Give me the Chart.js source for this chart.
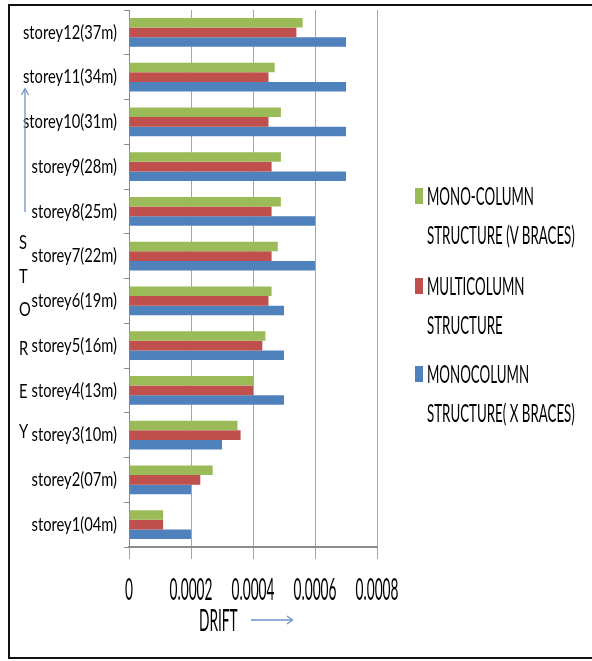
<!DOCTYPE html>
<html>
<head>
<meta charset="utf-8">
<script src="https://cdn.jsdelivr.net/npm/chart.js@4/dist/chart.umd.min.js"></script>
<style>
  html, body { margin: 0; padding: 0; background: #fff; }
  body { width: 592px; height: 661px; position: relative; overflow: hidden;
         font-family: Lato, 'DejaVu Sans Condensed', sans-serif; color: #000; }
  #frame { position: absolute; left: 8px; top: 4px; width: 600px; height: 651px;
           border: 2px solid #111; border-right: none; box-sizing: content-box; }
  #wrap { position: absolute; left: 0; top: 0; width: 592px; height: 661px; }
  .t { position: absolute; white-space: nowrap; line-height: 24px; height: 24px; }
  .t span { display: inline-block; transform-origin: left center; }
  .sw { position: absolute; width: 8px; height: 16px; }
  svg { position: absolute; left: 0; top: 0; }
</style>
</head>
<body>
<div id="frame"></div>
<div id="wrap"><canvas id="c" width="592" height="661"></canvas></div>
<svg width="592" height="661">
  <g stroke="#6f95c8" stroke-width="1.3" fill="none">
    <line x1="251" y1="620" x2="292" y2="620"/>
    <polyline points="287,616 292.5,620 287,624"/>
    <line x1="25" y1="212" x2="25" y2="89"/>
    <polyline points="21.5,95 25,88.5 28.5,95"/>
  </g>
</svg>
<div id="overlay"></div>
<script>
const categories = ['storey12(37m)', 'storey11(34m)', 'storey10(31m)', 'storey9(28m)', 'storey8(25m)', 'storey7(22m)',
                    'storey6(19m)', 'storey5(16m)', 'storey4(13m)', 'storey3(10m)', 'storey2(07m)', 'storey1(04m)'];
const vBraces     = [0.00056, 0.00047, 0.00049, 0.00049, 0.00049, 0.00048, 0.00046, 0.00044, 0.00040, 0.00035, 0.00027, 0.00011];
const multiColumn = [0.00054, 0.00045, 0.00045, 0.00046, 0.00046, 0.00046, 0.00045, 0.00043, 0.00040, 0.00036, 0.00023, 0.00011];
const xBraces     = [0.00070, 0.00070, 0.00070, 0.00070, 0.00060, 0.00060, 0.00050, 0.00050, 0.00050, 0.00030, 0.00020, 0.00020];
const xTicks = [0, 0.0002, 0.0004, 0.0006, 0.0008];
const seriesNames = [['MONO-COLUMN', 'STRUCTURE (V BRACES)'], ['MULTICOLUMN', 'STRUCTURE'], ['MONOCOLUMN', 'STRUCTURE( X BRACES)']];
const axisTitleX = 'DRIFT';
const axisTitleY = ['S', 'T', 'O', 'R', 'E', 'Y'];

const colors = ['#9bbb59', '#c0504d', '#4f81bd'];
const seriesData = [vBraces, multiColumn, xBraces];
const FAMILY = "Lato, 'DejaVu Sans Condensed', sans-serif";

// Narrow, tall text look (Calibri-like, stretched) via per-size scale factors
const mctx = document.createElement('canvas').getContext('2d');
function textStyle(size, sample, targetW, glyph, targetH) {
  mctx.font = size + 'px ' + FAMILY;
  const w = mctx.measureText(sample).width;
  const m = mctx.measureText(glyph);
  const h = m.actualBoundingBoxAscent + m.actualBoundingBoxDescent;
  return { size, sx: targetW / w, sy: targetH / h };
}
const catStyle    = textStyle(17, 'storey12(37m)', 94, '1', 15);
const tickStyle   = textStyle(20, '0.0002', 43, '0', 22);
const legendStyle = textStyle(19, 'MONO-COLUMN', 107, 'M', 18);
const styleBySize = { 17: catStyle, 20: tickStyle };

const canvas = document.getElementById('c');
const ctx = canvas.getContext('2d');
const origFill = ctx.fillText.bind(ctx);
ctx.fillText = function (text, x, y, maxW) {
  const m = /(\d+(?:\.\d+)?)px/.exec(this.font);
  const st = m && styleBySize[Math.round(+m[1])];
  if (!st) return origFill(text, x, y, maxW);
  this.save();
  this.translate(x, y);
  this.scale(st.sx, st.sy);
  origFill(text, 0, 0);
  this.restore();
};

// HTML text helper (centerY = vertical centre of text line)
const overlay = document.getElementById('overlay');
function addText(str, left, centerY, st) {
  const d = document.createElement('div');
  d.className = 't';
  d.style.left = left + 'px';
  d.style.top = (centerY - 12) + 'px';
  const s = document.createElement('span');
  s.style.fontSize = st.size + 'px';
  s.style.transform = `scale(${st.sx}, ${st.sy})`;
  s.textContent = str;
  d.appendChild(s);
  overlay.appendChild(d);
}

// vertical stacked axis title letters
const letterY = [242, 276, 309, 348, 391, 431];
axisTitleY.forEach((ch, i) => addText(ch, 19, letterY[i], catStyle));
// x axis title
addText(axisTitleX, 199, 618, tickStyle);

// legend
const legendTop = [196, 286, 374];
seriesNames.forEach((lines, i) => {
  const sw = document.createElement('div');
  sw.className = 'sw';
  sw.style.left = '415px';
  sw.style.top = (legendTop[i] - 8) + 'px';
  sw.style.background = colors[i];
  overlay.appendChild(sw);
  lines.forEach((ln, j) => addText(ln, 427, legendTop[i] + j * 38.5, legendStyle));
});

new Chart(canvas, {
  type: 'bar',
  data: {
    labels: categories,
    datasets: seriesData.map((d, i) => ({
      label: seriesNames[i].join(' '),
      data: d,
      backgroundColor: colors[i],
      borderWidth: 0,
      categoryPercentage: 0.64,
      barPercentage: 1.0
    }))
  },
  options: {
    indexAxis: 'y',
    responsive: false,
    animation: false,
    layout: { padding: { top: 10, right: 215, left: 0, bottom: 0 } },
    plugins: { legend: { display: false }, tooltip: { enabled: false } },
    scales: {
      x: {
        min: 0, max: 0.0008,
        afterBuildTicks: s => { s.ticks = xTicks.map(v => ({ value: v })); },
        afterFit: s => { s.height = 114; },
        grid: { color: '#a6a6a6', lineWidth: 1, tickLength: 12, drawTicks: true },
        border: { color: '#8c8c8c', width: 2 },
        ticks: {
          padding: 19,
          autoSkip: false,
          maxRotation: 0,
          minRotation: 0,
          color: '#000',
          font: { family: FAMILY, size: 20 },
          callback: v => (v === 0 ? '0' : Number(v).toFixed(4))
        }
      },
      y: {
        afterFit: s => { s.width = 129; s.paddingTop = 0; s.paddingBottom = 0; },
        grid: { offset: true, drawOnChartArea: false, drawTicks: true, tickLength: 5, color: '#8c8c8c' },
        border: { color: '#8c8c8c', width: 1 },
        ticks: {
          padding: 7,
          autoSkip: false,
          color: '#000',
          font: { family: FAMILY, size: 17 }
        }
      }
    }
  }
});
</script>
</body>
</html>
